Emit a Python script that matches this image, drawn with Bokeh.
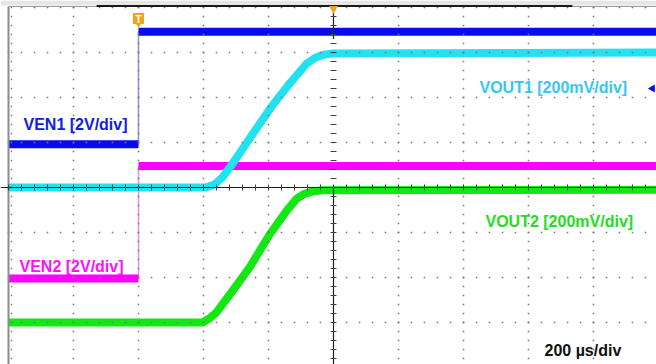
import numpy as np
from bokeh.plotting import figure
from bokeh.models import Range1d
from bokeh.core.properties import value
from bokeh.embed import file_html
from bokeh.resources import INLINE

# ---- timebase: 200 us/div, 10 divisions, trigger 2 div from the left edge ----
T_PER_DIV = 200.0
t_start, t_end = -400.0, 1600.0

# ---- channel set-up: volts per division and offset (in divisions) ----
ven1_scale, ven1_offset = 2.0, 0.96
ven2_scale, ven2_offset = 2.0, -2.02
vout1_scale, vout1_offset = 0.2, 0.0
vout2_scale, vout2_offset = 0.2, -3.0

# ---- enable signals (V) ----
en_time = [-400, 0, 0, 1600]
ven1 = [0.0, 0.0, 5.0, 5.0]
ven2 = [0.0, 0.0, 5.0, 5.0]

# ---- soft-start output ramps (V) ----
vout1_time = [-400, 207, 234, 258, 289, 363, 412, 465, 517, 545, 570, 600, 1600]
vout1 = [0.0, 0.0, 0.013, 0.045, 0.105, 0.262, 0.365, 0.462, 0.55, 0.578, 0.59, 0.596, 0.6]
vout2_time = [-400, 197, 218, 240, 289, 342, 403, 455, 485, 510, 535, 565, 1600]
vout2 = [0.0, 0.0, 0.018, 0.045, 0.14, 0.245, 0.39, 0.495, 0.548, 0.572, 0.582, 0.588, 0.59]

# ---- screen geometry ----
W, H = 656, 364
PX_X = 65.0   # pixels per horizontal division
PX_Y = 45.0   # pixels per vertical division
LEFT_PAD, TOP_PAD = 8.0, 7.0
x0 = t_start - LEFT_PAD / PX_X * T_PER_DIV
x1 = x0 + W / PX_X * T_PER_DIV
y1 = 4.0 + TOP_PAD / PX_Y
y0 = y1 - H / PX_Y

def dx(px):
    return px / PX_X * T_PER_DIV

def dy(px):
    return px / PX_Y

p = figure(width=W, height=H, output_backend="svg", toolbar_location=None,
           x_range=Range1d(x0, x1), y_range=Range1d(y0, y1),
           min_border_left=0, min_border_right=0, min_border_top=0, min_border_bottom=0)
p.axis.visible = False
p.grid.visible = False
p.outline_line_color = None
p.background_fill_color = "white"
p.border_fill_color = "white"

def to_div(vals, scale, offset):
    return [v / scale + offset for v in vals]

BAND = 8

def draw_step(times, vals, scale, offset, color, edge_color):
    ys = to_div(vals, scale, offset)
    p.line(times, ys, line_color=edge_color, line_width=1.5)
    p.line(times[:2], ys[:2], line_color=color, line_width=BAND)
    p.line(times[2:], ys[2:], line_color=color, line_width=BAND)

BLUE = "#0a0af0"
MAGENTA = "#ff00ff"
CYAN = "#22e2f0"
GREEN = "#12e812"

# ---- traces ----
draw_step(en_time, ven2, ven2_scale, ven2_offset, MAGENTA, "#e88ae8")
draw_step(en_time, ven1, ven1_scale, ven1_offset, BLUE, "#8c8ce0")
p.line(vout2_time, to_div(vout2, vout2_scale, vout2_offset), line_color=GREEN,
       line_width=BAND, line_join="round")
p.line(vout1_time, to_div(vout1, vout1_scale, vout1_offset), line_color=CYAN,
       line_width=BAND, line_join="round")

# ---- graticule, drawn over the traces ----
GRID_C = "#7a7a7a"
div_t = [t_start + T_PER_DIV * k for k in range(11)]
div_y = [4.0 - k for k in range(9)]
minor_y = [4.0 - 0.2 * j for j in range(41)]
minor_t = [t_start + T_PER_DIV / 5 * j for j in range(51)]
gx, gy = [], []
for t in div_t:
    if t in (t_start, 600.0):
        continue
    for y in minor_y:
        gx.append(t); gy.append(y)
for y in div_y:
    if y == 0.0:
        continue
    for t in minor_t:
        gx.append(t); gy.append(y)
p.scatter(gx, gy, marker="square", size=1.6, color=GRID_C, line_color=None)

# left border with minor dots
p.segment([t_start], [y0], [t_start], [4.0], line_color="#8c8c8c", line_width=2)
p.scatter([t_start + dx(3)] * len(minor_y), minor_y, marker="square", size=1.4,
          color=GRID_C, line_color=None)

# top strip and border
p.quad(left=[x0], right=[x1], top=[y1], bottom=[y1 - dy(5)], color="#e6e6e6", line_color=None)
p.segment([t_start], [y1 - dy(6)], [x1], [y1 - dy(6)], line_color="#9a9a9a", line_width=1)
p.segment([-129], [y1 - dy(5.5)], [1335], [y1 - dy(5.5)], line_color="#1a1a1a", line_width=2)

# centre cross-hair with tick marks
p.segment([x0], [0], [x1], [0], line_color="#202020", line_width=1.2)
p.segment([600], [y0], [600], [0], line_color="#202020", line_width=1.2)
p.segment([600], [3.3], [600], [4.0], line_color="#202020", line_width=1.2)
p.segment(minor_t, [-dy(3)] * len(minor_t), minor_t, [dy(3)] * len(minor_t),
          line_color="#404040", line_width=1)
p.segment([600 - dx(3)] * len(minor_y), minor_y, [600 + dx(3)] * len(minor_y), minor_y,
          line_color="#404040", line_width=1)

# trigger marker and horizontal-position marker
ORANGE = "#f3a01c"
p.scatter([0], [y1 - dy(18)], marker="square", size=11, color=ORANGE, line_color=None)
p.scatter([0], [y1 - dy(23)], marker="inverted_triangle", size=8, color=ORANGE, line_color=None)
p.text([0], [y1 - dy(18.5)], text=["T"], text_color="white", text_font=value("Liberation Sans"),
       text_font_style="bold", text_font_size="10px", text_align="center", text_baseline="middle")
p.scatter([600], [y1 - dy(8)], marker="inverted_triangle", size=9, color=ORANGE, line_color=None)
p.scatter([t_start + dx(644)], [y1 - dy(88)], marker="triangle", angle=np.pi / 2, size=8,
          color=BLUE, line_color=None)

# channel labels
FONT = value("Liberation Sans")
labels = [
    ("VEN1 [2V/div]", t_start + dx(15), y1 - dy(124), "#1020e0", "16px"),
    ("VEN2 [2V/div]", t_start + dx(11), y1 - dy(266), "#ff10ff", "16px"),
    ("VOUT1 [200mV/div]", t_start + dx(471), y1 - dy(87), "#38c6f2", "16px"),
    ("VOUT2 [200mV/div]", t_start + dx(477), y1 - dy(221), "#22dd22", "16px"),
    ("200 µs/div", t_start + dx(536), y1 - dy(350), "#111111", "16px"),
]
for txt, tx, ty, col, size in labels:
    p.text([tx], [ty], text=[txt], text_color=col, text_font=FONT, text_font_style="bold",
           text_font_size=size, text_align="left", text_baseline="alphabetic")

open("out.html", "w").write(file_html(p, INLINE))
